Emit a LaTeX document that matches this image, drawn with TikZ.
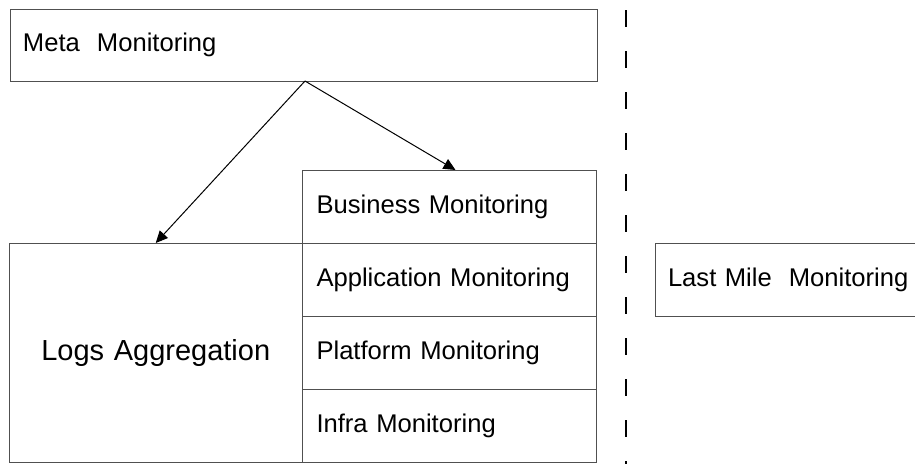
\documentclass[tikz,border=0pt]{standalone}
\usepackage{fontspec}
\setmainfont{Liberation Sans}
\usetikzlibrary{positioning,arrows.meta}
\definecolor{edgegray}{HTML}{505050}

\begin{document}
\begin{tikzpicture}[x=1pt, y=-1pt,
    box/.style={rectangle, draw=edgegray, line width=0.9pt, inner xsep=13pt, inner ysep=0pt, outer sep=0pt, align=left, font=\fontsize{25.6}{30}\selectfont},
    layer/.style={box, inner xsep=14pt, text width=266pt, minimum height=73pt},
    arrow/.style={-{Triangle[length=12pt,width=11pt]}, line width=1pt},
    node distance=0pt
]
    \useasboundingbox (0,0) rectangle (915,463);

    % Top box
    \node[box, anchor=north west, text width=561pt, minimum height=72pt] (meta) at (10,9) {Meta\ \ Monitoring};

    % Monitoring stack
    \node[layer, anchor=north west] (business) at (302.5,170) {Business Monitoring};
    \node[layer, below=of business] (application) {Application Monitoring};
    \node[layer, below=of application] (platform) {Platform Monitoring};
    \node[layer, below=of platform] (infra) {Infra Monitoring};

    % Logs next to the stack
    \node[box, anchor=north east, align=center, text width=267.5pt, minimum height=219pt, font=\fontsize{29}{34}\selectfont] (logs) at (application.north west) {Logs Aggregation};

    % Separator and last mile (box runs past the right edge)
    \coordinate (septop) at (626,10);
    \coordinate (sepbot) at (626,470);
    \draw[line width=1.4pt, dash pattern=on 17pt off 24pt] (septop) -- (sepbot);
    \node[box, anchor=north west, text width=270pt, minimum height=73pt] (lastmile) at (655,243) {Last Mile\ \ Monitoring};

    % Arrows
    \coordinate (split) at (305,81);
    \draw[arrow] (split) -- (logs.north);
    \draw[arrow] (split) -- ([xshift=6pt]business.north);

\end{tikzpicture}
\end{document}
